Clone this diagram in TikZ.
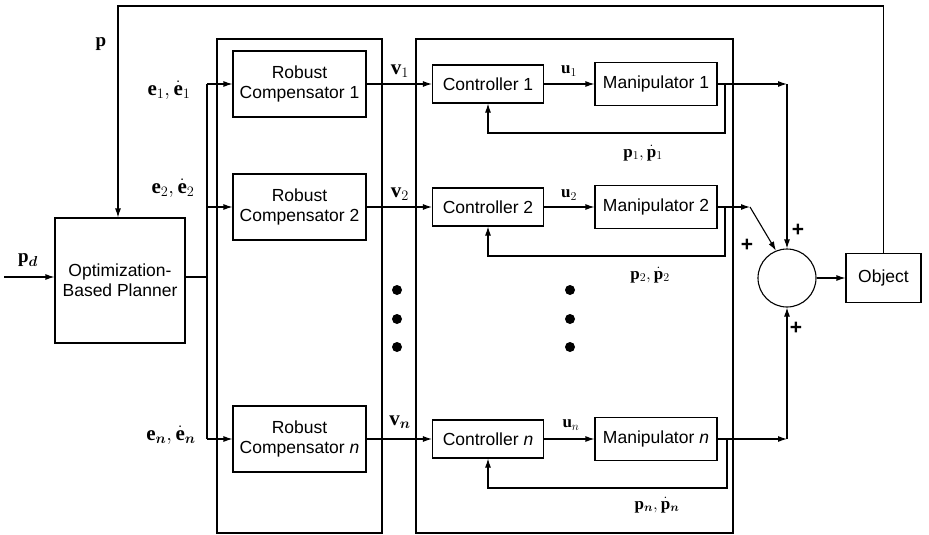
\documentclass[tikz,border=0pt]{standalone}
\usepackage{fontspec}
\setmainfont{Liberation Serif}
\setsansfont{Liberation Sans}
\usepackage{bm}
\usetikzlibrary{arrows.meta}

\begin{document}
\begin{tikzpicture}[x=1pt, y=-1pt, >={Latex[length=9pt,width=6pt]}]
    \tikzset{%
      blk/.style={draw, line width=1.1pt, fill=white, align=center, inner sep=2pt,
        font=\sffamily\fontsize{17.5}{20}\selectfont},
      comp/.style={blk, minimum width=133pt, minimum height=66pt},
      ctrl/.style={blk, minimum width=111pt, minimum height=38pt},
      manip/.style={blk, minimum width=122pt, minimum height=43pt},
      grp/.style={draw, line width=1.6pt},
      sig/.style={line width=1.1pt},
      lbl/.style={font=\fontsize{17}{19}\selectfont},
      biglbl/.style={font=\fontsize{21}{23}\selectfont},
      plus/.style={font=\sffamily\bfseries\fontsize{21}{23}\selectfont},
      dotmark/.style={circle, fill, inner sep=0pt, minimum size=10pt}
      }
    \useasboundingbox (0,0) rectangle (929,535);

    % the two groups
    \draw[grp] (217,39) rectangle (382,533);
    \draw[grp] (416,39) rectangle (733,533);

    \node [blk, minimum width=130pt, minimum height=125pt] (plan) at (120,280.5) {Optimization-\\Based Planner};

    \node [comp] (rc1) at (299.5,84) {Robust\\Compensator 1};
    \node [comp] (rc2) at (299.5,207) {Robust\\Compensator 2};
    \node [comp] (rcn) at (299.5,439) {Robust\\Compensator \textit{n}};

    \node [ctrl] (ctrl1) at (488,84) {Controller 1};
    \node [ctrl] (ctrl2) at (488,207) {Controller 2};
    \node [ctrl] (ctrln) at (488,439) {Controller \textit{n}};

    \node [manip] (man1) at (656,84) {Manipulator 1};
    \node [manip] (man2) at (656,207) {Manipulator 2};
    \node [manip] (mann) at (656,439) {Manipulator \textit{n}};

    \node [draw, circle, line width=1.1pt, minimum size=58pt, inner sep=0pt] (sum) at (787,278) {};
    \node [blk, minimum width=75pt, minimum height=49pt] (obj) at (883.5,278) {Object};

    % planner input and bus
    \coordinate (pdin) at (4,277);
    \draw [sig, ->] (pdin) -- (plan.west |- pdin);
    \coordinate (busp) at (207,277);
    \coordinate (bus1) at (207,84);
    \coordinate (bus2) at (207,207);
    \coordinate (busn) at (207,439);
    \draw [sig] (plan.east |- busp) -- (busp);
    \draw [sig] (bus1) -- (busn);
    \draw [sig, ->] (bus1) -- (rc1);
    \draw [sig, ->] (bus2) -- (rc2);
    \draw [sig, ->] (busn) -- (rcn);

    % compensators to controllers to manipulators
    \draw [sig, ->] (rc1) -- (ctrl1);
    \draw [sig, ->] (rc2) -- (ctrl2);
    \draw [sig, ->] (rcn) -- (ctrln);
    \draw [sig, ->] (ctrl1) -- (man1);
    \draw [sig, ->] (ctrl2) -- (man2);
    \draw [sig, ->] (ctrln) -- (mann);

    % local feedback
    \coordinate (t1) at (725,84);
    \coordinate (t2) at (725,207);
    \coordinate (tn) at (727,439);
    \draw [sig, ->] (t1) -- ++(0,49) -| (ctrl1.south);
    \draw [sig, ->] (t2) -- ++(0,49) -| (ctrl2.south);
    \draw [sig, ->] (tn) -- ++(0,49) -| (ctrln.south);

    % outputs to the sum
    \coordinate (j1) at (787,84);
    \coordinate (j2) at (750,207);
    \coordinate (jn) at (787,439);
    \draw [sig, ->] (man1) -- (j1);
    \draw [sig, ->] (j1) -- (sum);
    \draw [sig, ->] (man2) -- (j2);
    \draw [sig, ->] (j2) -- (sum.112);
    \draw [sig, ->] (mann) -- (jn);
    \draw [sig, ->] (jn) -- (sum);
    \draw [sig, ->] (sum) -- (obj);

    % global feedback
    \coordinate (ptop) at (118,6);
    \draw [sig, ->] (obj.north) |- (ptop) -- (ptop |- plan.north);

    % labels
    \node [lbl, font=\fontsize{19}{21}\selectfont] (lp) at (101,44) {$\mathbf{p}$};
    \node [lbl, font=\fontsize{19}{21}\selectfont] (lpd) at (28,260) {$\mathbf{p}_{\bm{d}}$};
    \node [biglbl] (le1) at (169,90) {$\mathbf{e}_1, \dot{\mathbf{e}}_1$};
    \node [biglbl] (le2) at (173,188) {$\mathbf{e}_2, \dot{\mathbf{e}}_2$};
    \node [biglbl] (len) at (171,435) {$\mathbf{e}_{\bm n}, \dot{\mathbf{e}}_{\bm n}$};
    \node [biglbl] (lv1) at (400,71) {$\mathbf{v}_1$};
    \node [biglbl] (lv2) at (400,194) {$\mathbf{v}_2$};
    \node [biglbl] (lvn) at (400,422) {$\mathbf{v}_{\bm n}$};
    \node [lbl] (lu1) at (569,71) {$\mathbf{u}_1$};
    \node [lbl] (lu2) at (569,195) {$\mathbf{u}_2$};
    \node [lbl] (lun) at (571,425) {$\mathbf{u}_{n}$};
    \node [lbl] (lp1) at (643,153) {$\mathbf{p}_1, \dot{\mathbf{p}}_1$};
    \node [lbl] (lp2) at (650,275) {$\mathbf{p}_2, \dot{\mathbf{p}}_2$};
    \node [lbl] (lpn) at (657,505) {$\mathbf{p}_{\bm n}, \dot{\mathbf{p}}_{\bm n}$};

    \node [plus] (pl1) at (798,230) {+};
    \node [plus] (pl2) at (747,245) {+};
    \node [plus] (pl3) at (796,328) {+};

    \foreach \y [count=\i] in {290,319,347} {
      \node [dotmark] (dl\i) at (397,\y) {};
      \node [dotmark] (dr\i) at (570,\y) {};
    }
  \end{tikzpicture}
\end{document}
